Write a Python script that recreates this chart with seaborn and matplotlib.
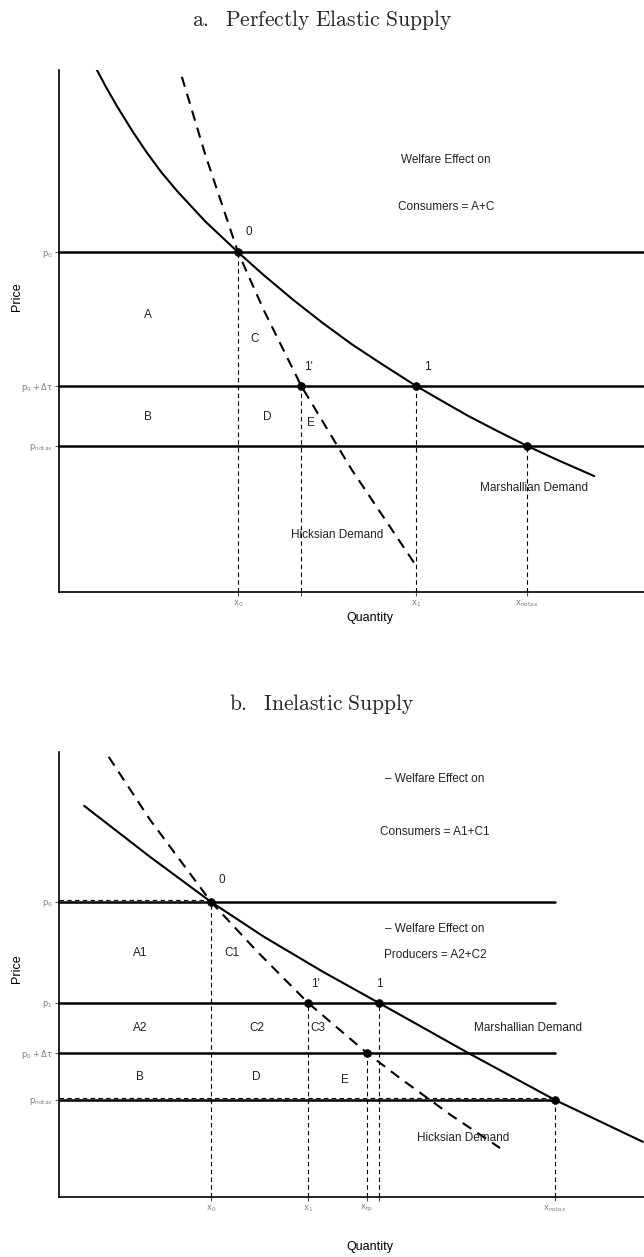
import numpy as np
import pandas as pd
import seaborn as sns
import matplotlib.pyplot as plt

# ---- panel a: perfectly elastic supply ----
a_marsh_q = [0.62, 0.80, 1.00, 1.26, 1.50, 1.75, 2.02, 2.50, 3.06, 3.50,
             4.00, 4.50, 5.00, 5.50, 6.10, 6.50, 7.00, 7.50, 8.00, 8.50, 9.15]
a_marsh_p = [10.06, 9.68, 9.29, 8.82, 8.42, 8.04, 7.68, 7.10, 6.51, 6.07,
             5.60, 5.16, 4.75, 4.38, 3.95, 3.69, 3.37, 3.08, 2.80, 2.54, 2.22]
a_hicks_q = [2.10, 2.50, 3.06, 3.50, 4.14, 5.00, 6.07]
a_hicks_p = [9.87, 8.38, 6.51, 5.40, 3.95, 2.35, 0.56]
a_price_ticks = [6.51, 3.95, 2.80]
a_price_labels = [r'$\mathrm{p_0}$', r'$\mathrm{p_0+\Delta\tau}$', r'$\mathrm{p_{notax}}$']
a_qty_ticks = [3.06, 4.14, 6.10, 8.00]
a_qty_labels = [r'$\mathrm{x_0}$', '', r'$\mathrm{x_1}$', r'$\mathrm{x_{notax}}$']
a_pts_q = [3.06, 4.14, 6.10, 8.00]
a_pts_p = [6.51, 3.95, 3.95, 2.80]

# ---- panel b: inelastic supply ----
b_marsh_q = [0.43, 1.56, 2.60, 3.50, 4.50, 5.47, 6.99, 8.48, 9.98]
b_marsh_p = [8.79, 7.64, 6.63, 5.85, 5.07, 4.36, 3.24, 2.18, 1.24]
b_hicks_q = [0.85, 1.56, 2.60, 3.40, 4.26, 5.26, 5.83, 6.70, 7.54]
b_hicks_p = [9.89, 8.47, 6.63, 5.50, 4.36, 3.24, 2.67, 1.84, 1.10]
b_price_ticks = [6.63, 4.36, 3.24, 2.18]
b_price_labels = [r'$\mathrm{p_0}$', r'$\mathrm{p_1}$', r'$\mathrm{p_0+\Delta\tau}$',
                  r'$\mathrm{p_{notax}}$']
b_qty_ticks = [2.60, 4.26, 5.26, 5.47, 8.48]
b_qty_labels = [r'$\mathrm{x_0}$', r'$\mathrm{x_1}$', r'$\mathrm{x_{tp}}$', '',
                r'$\mathrm{x_{notax}}$']
b_pts_q = [2.60, 4.26, 5.47, 5.26, 8.48]
b_pts_p = [6.63, 4.36, 4.36, 3.24, 2.18]

sns.set_theme(style='white')
plt.rcParams['font.family'] = ['Liberation Sans', 'DejaVu Sans']

fig = plt.figure(figsize=(6.44, 12.57), dpi=100)
ax_a = fig.add_axes([59/644, 1 - 592/1257, 585/644, 522/1257])
ax_b = fig.add_axes([59/644, 1 - 1197/1257, 585/644, 445/1257])

TXT = dict(fontsize=8.5, color='#222222', ha='center', va='center')


def base_axes(ax, pticks, plabels, qticks, qlabels):
    ax.set_xlim(0, 10)
    ax.set_ylim(0, 10)
    for s in ['top', 'right']:
        ax.spines[s].set_visible(False)
    for s in ['left', 'bottom']:
        ax.spines[s].set_color('black')
        ax.spines[s].set_linewidth(1.2)
    ax.set_yticks(pticks)
    ax.set_yticklabels(plabels)
    ax.set_xticks(qticks)
    ax.set_xticklabels(qlabels)
    ax.tick_params(axis='both', length=3, width=0.8, color='#555555',
                   labelsize=6, labelcolor='#808080', pad=1.5,
                   left=True, bottom=True)
    ax.set_xlabel('')
    ax.set_ylabel('')


def draw_panel(ax, mq, mp, hq, hp, ptq, ptp, pticks, hline_end):
    for y in pticks:
        ax.plot([0, hline_end], [y, y], color='black', lw=1.8, zorder=2,
                clip_on=False)
    for q, p in zip(ptq, ptp):
        ax.plot([q, q], [0, p], color='black', lw=0.8, ls=(0, (4, 3)), zorder=2)
    sns.lineplot(x=mq, y=mp, ax=ax, color='black', lw=1.5, sort=False,
                 estimator=None, zorder=3)
    sns.lineplot(x=hq, y=hp, ax=ax, color='black', lw=1.5, sort=False,
                 estimator=None, zorder=3, linestyle=(0, (5, 3.5)))
    sns.scatterplot(x=ptq, y=ptp, ax=ax, color='black', s=32,
                    edgecolor='black', zorder=4)


# panel a
base_axes(ax_a, a_price_ticks, a_price_labels, a_qty_ticks, a_qty_labels)
draw_panel(ax_a, a_marsh_q, a_marsh_p, a_hicks_q, a_hicks_p,
           a_pts_q, a_pts_p, a_price_ticks, 10)
for x, y, s in [(3.25, 6.90, '0'), (4.27, 4.31, "1'"), (6.29, 4.31, '1'),
                (1.52, 5.31, 'A'), (3.35, 4.85, 'C'), (1.52, 3.35, 'B'),
                (3.56, 3.35, 'D'), (4.31, 3.24, 'E'),
                (6.62, 8.28, 'Welfare Effect on'),
                (6.62, 7.38, 'Consumers = A+C'),
                (8.12, 1.99, 'Marshallian Demand'),
                (4.75, 1.09, 'Hicksian Demand')]:
    ax_a.text(x, y, s, **TXT)
ax_a.text(0.532, -26/522, 'Quantity', transform=ax_a.transAxes,
          fontsize=9, ha='center', va='center', color='black')
ax_a.text(-42/585, 0.565, 'Price', transform=ax_a.transAxes, rotation=90,
          fontsize=9, ha='center', va='center', color='black')

# panel b
base_axes(ax_b, b_price_ticks, b_price_labels, b_qty_ticks, b_qty_labels)
draw_panel(ax_b, b_marsh_q, b_marsh_p, b_hicks_q, b_hicks_p,
           b_pts_q, b_pts_p, b_price_ticks, b_qty_ticks[-1])
for q, p in [(b_pts_q[0], b_pts_p[0]), (b_pts_q[-1], b_pts_p[-1])]:
    ax_b.plot([0, q], [p + 0.04, p + 0.04], color='black', lw=0.8,
              ls=(0, (4, 3)), zorder=3)
for x, y, s in [(2.79, 7.12, '0'), (4.39, 4.79, "1'"), (5.47, 4.79, '1'),
                (1.38, 5.48, 'A1'), (2.96, 5.48, 'C1'),
                (1.38, 3.80, 'A2'), (3.38, 3.80, 'C2'), (4.43, 3.80, 'C3'),
                (1.38, 2.70, 'B'), (3.38, 2.70, 'D'), (4.89, 2.63, 'E'),
                (6.43, 9.39, '\u2013 Welfare Effect on'),
                (6.43, 8.20, 'Consumers = A1+C1'),
                (6.43, 6.02, '\u2013 Welfare Effect on'),
                (6.43, 5.44, 'Producers = A2+C2'),
                (8.02, 3.80, 'Marshallian Demand'),
                (6.91, 1.33, 'Hicksian Demand')]:
    ax_b.text(x, y, s, **TXT)
ax_b.text(0.532, -50/445, 'Quantity', transform=ax_b.transAxes,
          fontsize=9, ha='center', va='center', color='black')
ax_b.text(-42/585, 0.512, 'Price', transform=ax_b.transAxes, rotation=90,
          fontsize=9, ha='center', va='center', color='black')

# titles
fig.text(0.5, 1 - 20/1257, r'$\mathrm{a.\ \ Perfectly\ Elastic\ Supply}$',
         ha='center', va='center', fontsize=15.5, math_fontfamily='cm')
fig.text(0.5, 1 - 704/1257, r'$\mathrm{b.\ \ Inelastic\ Supply}$',
         ha='center', va='center', fontsize=15.5, math_fontfamily='cm')

fig.savefig('out.png', dpi=100)
